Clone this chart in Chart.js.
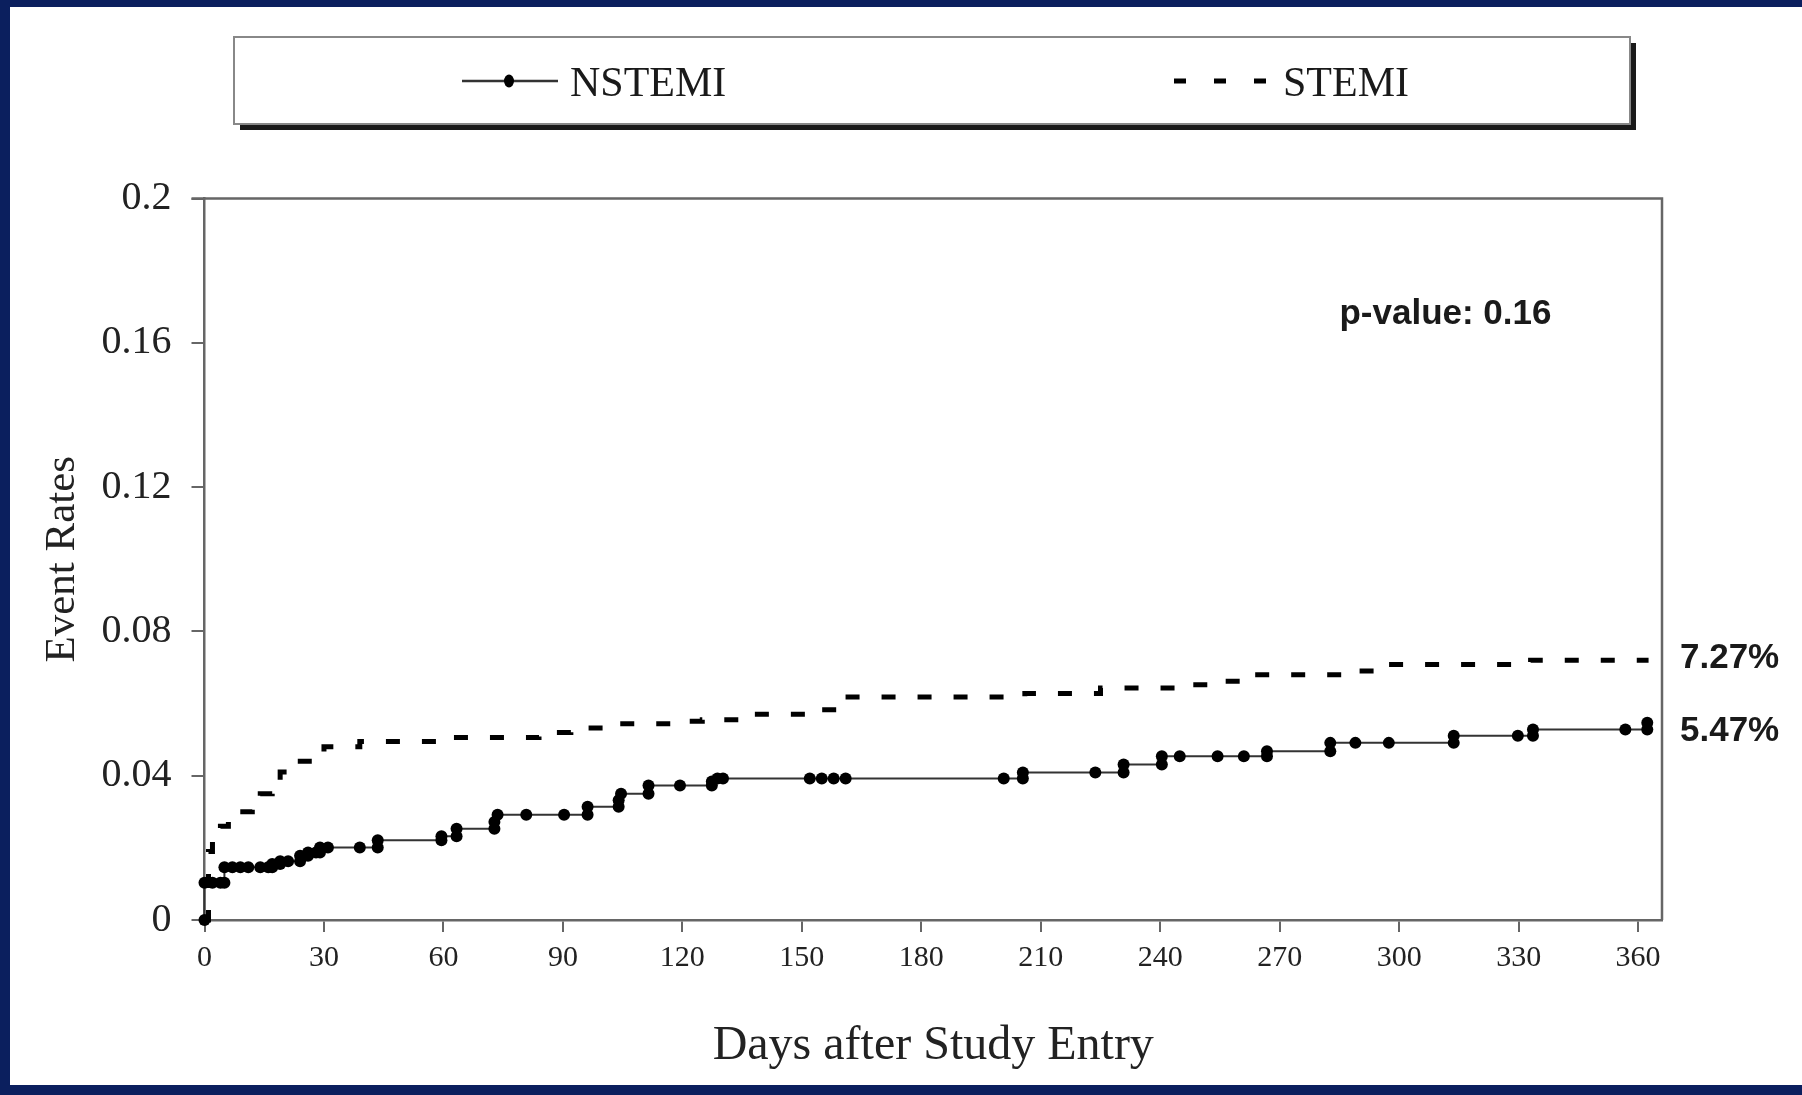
<!DOCTYPE html>
<html>
<head>
<meta charset="utf-8">
<title>NSTEMI vs STEMI event rates</title>
<script src="https://cdn.jsdelivr.net/npm/chart.js@4.4.1/dist/chart.umd.min.js"></script>
<style>
  html, body { margin: 0; padding: 0; background: #0b1f5e; }
  #frame { position: absolute; left: 10px; top: 7px; width: 1792px; height: 1078px; background: #fff; }
</style>
</head>
<body>
<div id="frame"><canvas id="kmChart"></canvas></div>
<script>
// NSTEMI: every dot of the curve (a step repeats the day with old and new rate)
let nstemiDays = [0, 0, 2, 4, 5, 5, 7, 9, 11, 14, 16, 17, 17, 19, 19, 21, 24, 24, 26, 26,
    28, 29, 29, 31, 39, 43.5, 43.5, 59.5, 59.5, 63.3, 63.3, 72.8, 72.8, 73.6, 80.8, 90.3,
    96.2, 96.2, 104, 104, 104.6, 111.5, 111.5, 119.4, 127.4, 127.4, 128.8, 130.2, 152, 155,
    158, 161, 200.7, 205.5, 205.5, 223.7, 230.8, 230.8, 240.4, 240.4, 244.9, 254.4, 261,
    266.8, 266.8, 282.7, 282.7, 289, 297.4, 313.7, 313.7, 329.8, 333.6, 333.6, 356.8, 362.3, 362.3];
let nstemiRates = [0, 0.0103, 0.0103, 0.0103, 0.0103, 0.0146, 0.0146, 0.0146, 0.0146, 0.0146,
    0.0146, 0.0146, 0.0155, 0.0155, 0.0163, 0.0163, 0.0163, 0.0178, 0.0178, 0.0187,
    0.0187, 0.0187, 0.0201, 0.0201, 0.0201, 0.0201, 0.0221, 0.0221, 0.0232, 0.0232, 0.0253, 0.0253, 0.0272, 0.0292, 0.0292, 0.0292,
    0.0292, 0.0314, 0.0314, 0.0332, 0.035, 0.035, 0.0373, 0.0373, 0.0373, 0.0384, 0.0392, 0.0392, 0.0392, 0.0392,
    0.0392, 0.0392, 0.0392, 0.0392, 0.0409, 0.0409, 0.0409, 0.0431, 0.0431, 0.0454, 0.0454, 0.0454, 0.0454,
    0.0454, 0.0468, 0.0468, 0.0491, 0.0491, 0.0491, 0.0491, 0.0511, 0.0511, 0.0511, 0.0528, 0.0528, 0.0528, 0.0547];

// STEMI: rate after each step
let stemiDays = [0, 1, 2, 4, 6, 12, 14, 17, 19, 22, 28, 30, 39, 62, 84, 92, 100, 118, 125,
    135, 155, 160, 206, 225, 244, 253, 260, 288, 297, 333, 362];
let stemiRates = [0, 0.019, 0.022, 0.026, 0.030, 0.032, 0.035, 0.038, 0.041, 0.044, 0.046,
    0.048, 0.0495, 0.0506, 0.052, 0.0532, 0.0544, 0.0551, 0.0555, 0.057, 0.0583, 0.0618,
    0.0628, 0.0643, 0.0652, 0.0662, 0.068, 0.069, 0.0708, 0.072, 0.0727];

let xTicks = [0, 30, 60, 90, 120, 150, 180, 210, 240, 270, 300, 330, 360];
let yTicks = [0, 0.04, 0.08, 0.12, 0.16, 0.2];
let yTickLabels = ['0', '0.04', '0.08', '0.12', '0.16', '0.2'];
let seriesNames = ['NSTEMI', 'STEMI'];
let endLabels = ['5.47%', '7.27%'];
let pValueText = 'p-value: 0.16';

const serif = '"Liberation Serif", "Times New Roman", serif';
const sans = '"Liberation Sans", Arial, sans-serif';
const axisGray = '#666';
const stemiDash = [14, 22];

function toPoints(days, rates) {
    return days.map((d, i) => ({x: d, y: rates[i]}));
}

// boxed legend at the top, with a dark drop shadow
const legendBox = {
    id: 'legendBox',
    afterDraw(chart) {
        const ctx = chart.ctx;
        const l = 224, t = 30, w = 1396, h = 87;
        const midY = 74;
        ctx.save();
        ctx.fillStyle = '#1a1a1a';
        ctx.fillRect(l + 6, t + 6, w, h);
        ctx.fillStyle = '#fff';
        ctx.fillRect(l, t, w, h);
        ctx.strokeStyle = '#888';
        ctx.lineWidth = 2;
        ctx.strokeRect(l, t, w, h);

        // NSTEMI sample
        ctx.strokeStyle = '#333';
        ctx.lineWidth = 2.5;
        ctx.beginPath();
        ctx.moveTo(452, midY);
        ctx.lineTo(548, midY);
        ctx.stroke();
        ctx.fillStyle = '#000';
        ctx.beginPath();
        ctx.ellipse(499, midY, 5, 6.5, 0, 0, Math.PI * 2);
        ctx.fill();

        // STEMI sample
        ctx.strokeStyle = '#000';
        ctx.lineWidth = 5;
        ctx.setLineDash([12, 28]);
        ctx.beginPath();
        ctx.moveTo(1164, midY);
        ctx.lineTo(1266, midY);
        ctx.stroke();
        ctx.setLineDash([]);

        ctx.fillStyle = '#1a1a1a';
        ctx.font = '42px ' + serif;
        ctx.textBaseline = 'middle';
        ctx.fillText(seriesNames[0], 560, midY + 4);
        ctx.fillText(seriesNames[1], 1273, midY + 4);
        ctx.restore();
    }
};

// top and right sides of the plot frame
const frameLines = {
    id: 'frameLines',
    beforeDatasetsDraw(chart) {
        const {ctx, chartArea: a} = chart;
        ctx.save();
        ctx.strokeStyle = axisGray;
        ctx.lineWidth = 2.5;
        ctx.beginPath();
        ctx.moveTo(a.left - 13, a.top);
        ctx.lineTo(a.right, a.top);
        ctx.lineTo(a.right, a.bottom);
        ctx.stroke();
        ctx.restore();
    }
};

// p-value and the final rates on the right
const notes = {
    id: 'notes',
    afterDraw(chart) {
        const {ctx, chartArea: a} = chart;
        const xs = chart.scales.x, ys = chart.scales.y;
        ctx.save();
        ctx.fillStyle = '#1a1a1a';
        ctx.font = 'bold 35px ' + sans;
        ctx.textBaseline = 'middle';
        ctx.fillText(pValueText, xs.getPixelForValue(285), ys.getPixelForValue(0.168));
        chart.data.datasets.forEach((ds, i) => {
            const last = ds.data[ds.data.length - 1];
            ctx.fillText(endLabels[i], a.right + 18, ys.getPixelForValue(last.y) + (i === 0 ? 9 : 1));
        });
        ctx.restore();
    }
};

new Chart(document.getElementById('kmChart'), {
    type: 'line',
    data: {
        datasets: [{
            label: seriesNames[0],
            data: toPoints(nstemiDays, nstemiRates),
            stepped: true,
            borderColor: '#333',
            borderWidth: 2,
            pointRadius: 6,
            pointBackgroundColor: '#000',
            pointBorderWidth: 0,
            clip: false
        }, {
            label: seriesNames[1],
            data: toPoints(stemiDays, stemiRates),
            stepped: true,
            borderColor: '#000',
            borderWidth: 5,
            borderDash: stemiDash,
            pointRadius: 0,
            clip: false
        }]
    },
    options: {
        responsive: true,
        maintainAspectRatio: false,
        animation: false,
        layout: {padding: {left: 0, top: 191.5, right: 140, bottom: 0}},
        plugins: {legend: {display: false}, tooltip: {enabled: false}},
        scales: {
            x: {
                type: 'linear',
                min: 0,
                max: 366,
                afterBuildTicks: s => { s.ticks = xTicks.map(v => ({value: v})); },
                afterFit: s => { s.height = 165; },
                grid: {drawOnChartArea: false, color: axisGray, lineWidth: 2, tickLength: 12},
                border: {color: axisGray, width: 2.5},
                ticks: {color: '#222', font: {family: serif, size: 30}, padding: 8, maxRotation: 0, autoSkip: false},
                title: {display: true, text: 'Days after Study Entry', color: '#222',
                    font: {family: serif, size: 48}, padding: {top: 0, bottom: 10}}
            },
            y: {
                min: 0,
                max: 0.2,
                afterBuildTicks: s => { s.ticks = yTicks.map(v => ({value: v})); },
                afterFit: s => { s.width = 194.5; },
                grid: {drawOnChartArea: false, color: axisGray, lineWidth: 2, tickLength: 13},
                border: {color: axisGray, width: 2.5},
                ticks: {color: '#222', font: {family: serif, size: 40}, padding: 20,
                    callback: (v, i) => yTickLabels[i]},
                title: {display: true, text: 'Event Rates', color: '#222',
                    font: {family: serif, size: 43}, padding: {top: 27, bottom: 0}}
            }
        }
    },
    plugins: [legendBox, frameLines, notes]
});
</script>
</body>
</html>
